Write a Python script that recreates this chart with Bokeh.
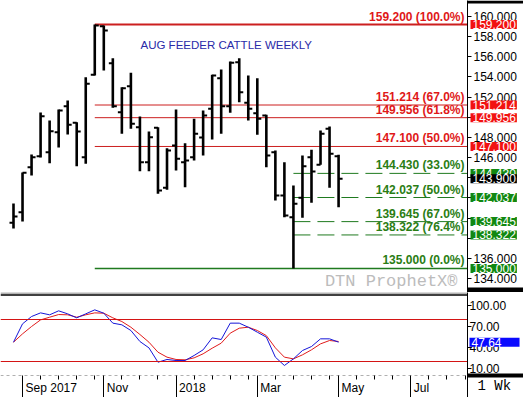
import numpy as np
import pandas as pd
from bokeh.plotting import figure
from bokeh.layouts import column, row
from bokeh.models import (Range1d, FixedTicker, PrintfTickFormatter, Span, Label,
                          ColumnDataSource, BoxAnnotation, LinearAxis, DatetimeAxis)
from bokeh.embed import file_html
from bokeh.resources import INLINE

# ---------------- data ----------------
first_week = "2017-08-28"
opens = [139.53, 140.58, 145.04, 146.13, 146.53, 148.52, 151.10, 149.45, 146.04, 154.21,
         159.03, 155.36, 150.50, 153.08, 149.01, 145.54, 148.95, 143.00, 147.20, 145.54,
         146.04, 148.00, 150.84, 153.87, 151.09, 155.46, 151.43, 150.40, 150.17, 146.53,
         142.24, 140.08, 142.01, 146.04, 145.28, 148.85, 146.13]
highs = [141.44, 144.52, 146.30, 150.47, 149.68, 150.77, 151.66, 149.51, 153.97, 159.20,
         159.10, 155.86, 152.98, 154.41, 150.07, 148.58, 149.01, 146.93, 150.77, 147.42,
         149.84, 150.67, 154.21, 154.74, 155.53, 155.86, 154.14, 153.87, 150.24, 146.70,
         145.54, 143.23, 146.20, 146.77, 148.68, 149.075, 146.27]
lows = [138.96, 139.66, 144.22, 146.00, 145.44, 147.00, 148.29, 145.14, 145.38, 154.14,
        154.64, 150.94, 148.36, 148.85, 144.65, 144.65, 142.40, 142.80, 144.72, 143.06,
        145.71, 146.20, 147.79, 148.36, 150.44, 151.49, 149.68, 148.26, 145.04, 141.74,
        140.08, 135.00, 140.02, 141.51, 145.28, 143.00, 141.07]
closes = [140.15, 144.50, 146.04, 150.10, 148.61, 150.67, 149.25, 148.58, 153.32, 159.10,
          158.60, 151.09, 152.88, 149.35, 145.54, 148.02, 142.73, 146.70, 145.88, 145.71,
          148.36, 150.17, 154.14, 151.09, 155.40, 152.48, 150.84, 149.84, 146.20, 142.24,
          140.25, 141.41, 145.14, 144.62, 148.36, 146.37, 143.90]
stoch_k = [47.6, 73.8, 84.3, 89.5, 86.7, 92.4, 88.1, 82.4, 88.1, 93.8, 89.0, 74.8, 72.4,
           64.3, 48.6, 39.5, 19.0, 22.9, 21.4, 21.4, 28.6, 36.7, 53.8, 51.4, 74.8, 74.8,
           69.0, 61.9, 54.8, 26.2, 14.3, 23.8, 35.7, 41.4, 52.4, 52.4, 47.64]
stoch_d = [47.6, 59.5, 70.0, 79.5, 83.3, 87.1, 86.7, 83.3, 86.7, 89.5, 89.0, 82.4, 77.1,
           69.0, 58.6, 47.6, 33.3, 26.2, 22.9, 22.4, 25.2, 31.0, 39.0, 46.2, 60.5, 67.6,
           69.0, 64.3, 57.0, 39.5, 26.2, 23.8, 29.5, 36.7, 45.2, 50.0, 48.6]

red_levels = [159.200, 151.214, 149.956, 147.100]
red_labels = ["159.200 (100.0%)", "151.214 (67.0%)", "149.956 (61.8%)", "147.100 (50.0%)"]
green_levels = [144.430, 142.037, 139.645, 138.322]
green_labels = ["144.430 (33.0%)", "142.037 (50.0%)", "139.645 (67.0%)", "138.322 (76.4%)"]
base_level = 135.000
base_label = "135.000 (0.0%)"
last_close = 143.900
last_k = 47.64
osc_bands = [80, 20]
month_ticks = ["2017-09-04", "2017-11-06", "2018-01-01", "2018-03-05", "2018-05-07", "2018-07-02"]
month_labels = ["Sep 2017", "Nov", "2018", "Mar", "May", "Jul"]
price_ticks = list(range(134, 161, 2))
osc_ticks = [10, 40, 70, 100]
title_text = "AUG FEEDER CATTLE WEEKLY"
watermark = "DTN ProphetX\u00ae"
period_text = "1 Wk"

# ---------------- styles / geometry ----------------
WEEK = 7 * 24 * 3600 * 1000
PX_PER_WEEK = 9.03
MAIN_W, AX_W = 467, 56
MAIN_H, OSC_H, OSC_AXIS_H = 292, 105, 22
RED_LINE = "#cc1f1f"
RED_TXT = "#e01818"
RED_BOX = "#f21111"
GREEN_LINE = "#1f7a1f"
GREEN_TXT = "#2a7d14"
GREEN_BOX = "#118811"
FONT = "Liberation Sans"
CHAR_EM = {"S": .667, "e": .556, "p": .556, " ": .278, "N": .722, "o": .556, "v": .5,
           "M": .833, "a": .556, "r": .333, "y": .5, "J": .5, "u": .556, "l": .222}

dates = pd.date_range(first_week, periods=len(closes), freq="7D")
d_ms = np.array([d.value // 10**6 for d in dates], dtype=float)
x_start = d_ms[0] - (13 / PX_PER_WEEK) * WEEK
x_end = d_ms[0] + ((MAIN_W - 13) / PX_PER_WEEK) * WEEK
TICK = (4 / PX_PER_WEEK) * WEEK
ms_per_px = WEEK / PX_PER_WEEK

y_top, y_bot = 161.581, 132.613
px_per_price = MAIN_H / (y_top - y_bot)
osc_top = 118.6
osc_px = (OSC_H - OSC_AXIS_H) / osc_top
osc_bot = -OSC_AXIS_H / osc_px

src = ColumnDataSource(dict(x=d_ms, xl=d_ms - TICK, xr=d_ms + TICK,
                            o=opens, h=highs, l=lows, c=closes,
                            k=stoch_k, d=stoch_d))

def common(fig):
    fig.outline_line_color = None
    fig.grid.visible = False
    fig.min_border_left = fig.min_border_right = 0
    fig.min_border_top = fig.min_border_bottom = 0

def strip_axes(fig, ticks, label_ticks, fmt, standoff):
    # axis line + short inward ticks at the left edge of the strip (no labels)
    a1 = LinearAxis(ticker=FixedTicker(ticks=[], minor_ticks=ticks),
                    major_tick_in=0, major_tick_out=0,
                    minor_tick_in=4, minor_tick_out=0, axis_line_color="black",
                    minor_tick_line_color="black", major_label_standoff=0)
    fig.add_layout(a1, "left")
    # tick labels, pulled back into the strip
    a2 = LinearAxis(ticker=FixedTicker(ticks=label_ticks), formatter=PrintfTickFormatter(format=fmt),
                    major_tick_in=0, major_tick_out=0, minor_tick_in=0, minor_tick_out=0,
                    axis_line_color=None, major_tick_line_color=None,
                    major_label_text_font=FONT, major_label_text_font_size="12px",
                    major_label_text_color="black", major_label_standoff=standoff)
    fig.add_layout(a2, "right")

def box(fig, yv, txt, bg, x=3, pad_right=1):
    fig.add_layout(Label(x=x, y=yv, x_units="screen", text=txt, text_align="left",
                         text_baseline="middle", text_font=FONT, text_font_size="12px",
                         text_color="white", background_fill_color=bg, level="overlay",
                         padding=dict(left=2, right=pad_right, top=0, bottom=0)))

# ---------------- main price panel ----------------
p = figure(width=MAIN_W, height=MAIN_H, x_axis_type="datetime",
           x_range=Range1d(x_start, x_end), y_range=Range1d(y_bot, y_top),
           output_backend="svg", toolbar_location=None,
           x_axis_location=None, y_axis_location=None)
common(p)

hi_idx = int(np.argmax(highs))
lo_idx = int(np.argmin(lows))

p.segment(x0=[d_ms[hi_idx]] * len(red_levels), y0=red_levels,
          x1=[x_end] * len(red_levels), y1=red_levels,
          line_color=RED_LINE, line_width=[2, 1, 1, 1])
p.segment(x0=[d_ms[hi_idx]], y0=[base_level], x1=[x_end], y1=[base_level],
          line_color=GREEN_LINE, line_width=1.5)
p.segment(x0=[d_ms[lo_idx]] * len(green_levels), y0=green_levels,
          x1=[x_end] * len(green_levels), y1=green_levels,
          line_color=GREEN_LINE, line_width=1, line_dash="17 7")

p.segment("x", "l", "x", "h", source=src, line_color="black", line_width=2.6)
p.segment("xl", "o", "x", "o", source=src, line_color="black", line_width=2)
p.segment("x", "c", "xr", "c", source=src, line_color="black", line_width=2)

for lev, lab in zip(red_levels, red_labels):
    p.add_layout(Label(x=MAIN_W - 3, y=lev, x_units="screen", text=lab, text_align="right",
                       text_baseline="middle", y_offset=8, text_font=FONT,
                       text_font_style="bold", text_font_size="12px", text_color=RED_TXT))
for lev, lab in zip(green_levels + [base_level], green_labels + [base_label]):
    p.add_layout(Label(x=MAIN_W - 3, y=lev, x_units="screen", text=lab, text_align="right",
                       text_baseline="middle", y_offset=8, text_font=FONT,
                       text_font_style="bold", text_font_size="12px", text_color=GREEN_TXT))

p.add_layout(Label(x=140, y=MAIN_H - 44, x_units="screen", y_units="screen", text=title_text,
                   text_align="left", text_baseline="middle", text_font=FONT,
                   text_font_size="11.5px", text_color="#2a2aa8"))
p.add_layout(Label(x=457, y=MAIN_H - 281, x_units="screen", y_units="screen", text=watermark,
                   text_align="right", text_baseline="middle", text_font="Liberation Mono",
                   text_font_size="17px", text_color="#bcbcbc"))

# ---------------- price axis strip ----------------
box_levels = red_levels + green_levels + [base_level, last_close]
price_label_ticks = [t for t in price_ticks
                     if min(abs(t - b) for b in box_levels) * px_per_price > 5]

r = figure(width=AX_W, height=MAIN_H, x_range=Range1d(0, 1), y_range=p.y_range,
           output_backend="svg", toolbar_location=None,
           x_axis_location=None, y_axis_location=None)
common(r)
strip_axes(r, price_ticks, price_label_ticks, "%.3f", -50)
for lev in red_levels:
    box(r, lev, "%.3f" % lev, RED_BOX)
for lev in green_levels + [base_level]:
    box(r, lev, "%.3f" % lev, GREEN_BOX)
box(r, last_close, "%.3f" % last_close, "black")
r.add_layout(BoxAnnotation(bottom=y_top - 3 / px_per_price, fill_color="black",
                           fill_alpha=1, line_color=None))
r.add_layout(BoxAnnotation(top=y_bot + 5 / px_per_price, fill_color="black",
                           fill_alpha=1, line_color=None))

# ---------------- oscillator panel (frame covers the date-axis band too) ----------------
q = figure(width=MAIN_W, height=OSC_H, x_axis_type="datetime", x_range=p.x_range,
           y_range=Range1d(osc_bot, osc_top), output_backend="svg", toolbar_location=None,
           x_axis_location=None, y_axis_location=None)
common(q)

major_ms = [int(pd.Timestamp(m).value // 10**6) for m in month_ticks]
minor_ms = []
bounds = major_ms + [x_end]
for a, b in zip(bounds[:-1], bounds[1:]):
    t = a + 2 * WEEK
    while t < b - 1:
        minor_ms.append(t)
        t += 2 * WEEK

def text_w(s, size=12):
    return sum(CHAR_EM.get(ch, .556) for ch in s) * size

label_ms = [int(m + (3 + text_w(lab) / 2) * ms_per_px) for m, lab in zip(major_ms, month_labels)]

xa_ticks = DatetimeAxis(ticker=FixedTicker(ticks=[], minor_ticks=minor_ms), fixed_location=0,
                        major_tick_out=0, major_tick_in=0, minor_tick_out=0, minor_tick_in=-4,
                        minor_tick_line_color="black", axis_line_color="#b0b0b0",
                        axis_line_dash="3 3", major_label_standoff=0)
q.add_layout(xa_ticks, "below")
xa_lab = DatetimeAxis(ticker=FixedTicker(ticks=label_ms, minor_ticks=major_ms),
                      major_tick_out=0, major_tick_in=0, major_tick_line_color=None,
                      minor_tick_out=0, minor_tick_in=OSC_AXIS_H, minor_tick_line_color="black",
                      axis_line_color=None, major_label_text_font=FONT,
                      major_label_text_font_size="12px", major_label_text_color="black",
                      major_label_standoff=-17,
                      major_label_overrides={m: lab for m, lab in zip(label_ms, month_labels)})
q.add_layout(xa_lab, "below")

q.add_layout(Span(location=osc_top - 0.5 / osc_px, dimension="width", line_color="#6a6a6a", line_width=1))
q.add_layout(Span(location=osc_top - 2.6 / osc_px, dimension="width", line_color="black", line_width=1.5))
for b in osc_bands:
    q.add_layout(Span(location=b, dimension="width", line_color="#d41414", line_width=1))

q.line("x", "d", source=src, line_color="#e01b1b", line_width=1)
q.line("x", "k", source=src, line_color="#1515d8", line_width=1)

# ---------------- oscillator axis strip ----------------
rq = figure(width=AX_W, height=OSC_H, x_range=Range1d(0, 1), y_range=q.y_range,
            output_backend="svg", toolbar_location=None,
            x_axis_location=None, y_axis_location=None)
common(rq)
strip_axes(rq, osc_ticks, osc_ticks, "%.2f", -54)
box(rq, last_k, "%.2f" % last_k, "#0a0aff", x=2, pad_right=18)
rq.add_layout(BoxAnnotation(bottom=-2 / osc_px, top=2 / osc_px, fill_color="black",
                            fill_alpha=1, line_color=None))
rq.add_layout(Label(x=10, y=12, x_units="screen", y_units="screen", text=period_text,
                    text_align="left", text_baseline="middle", text_font="Liberation Mono",
                    text_font_size="14px", text_color="black"))

layout = column(row(p, r, spacing=0), row(q, rq, spacing=0), spacing=0)
open("out.html", "w").write(file_html(layout, INLINE))
